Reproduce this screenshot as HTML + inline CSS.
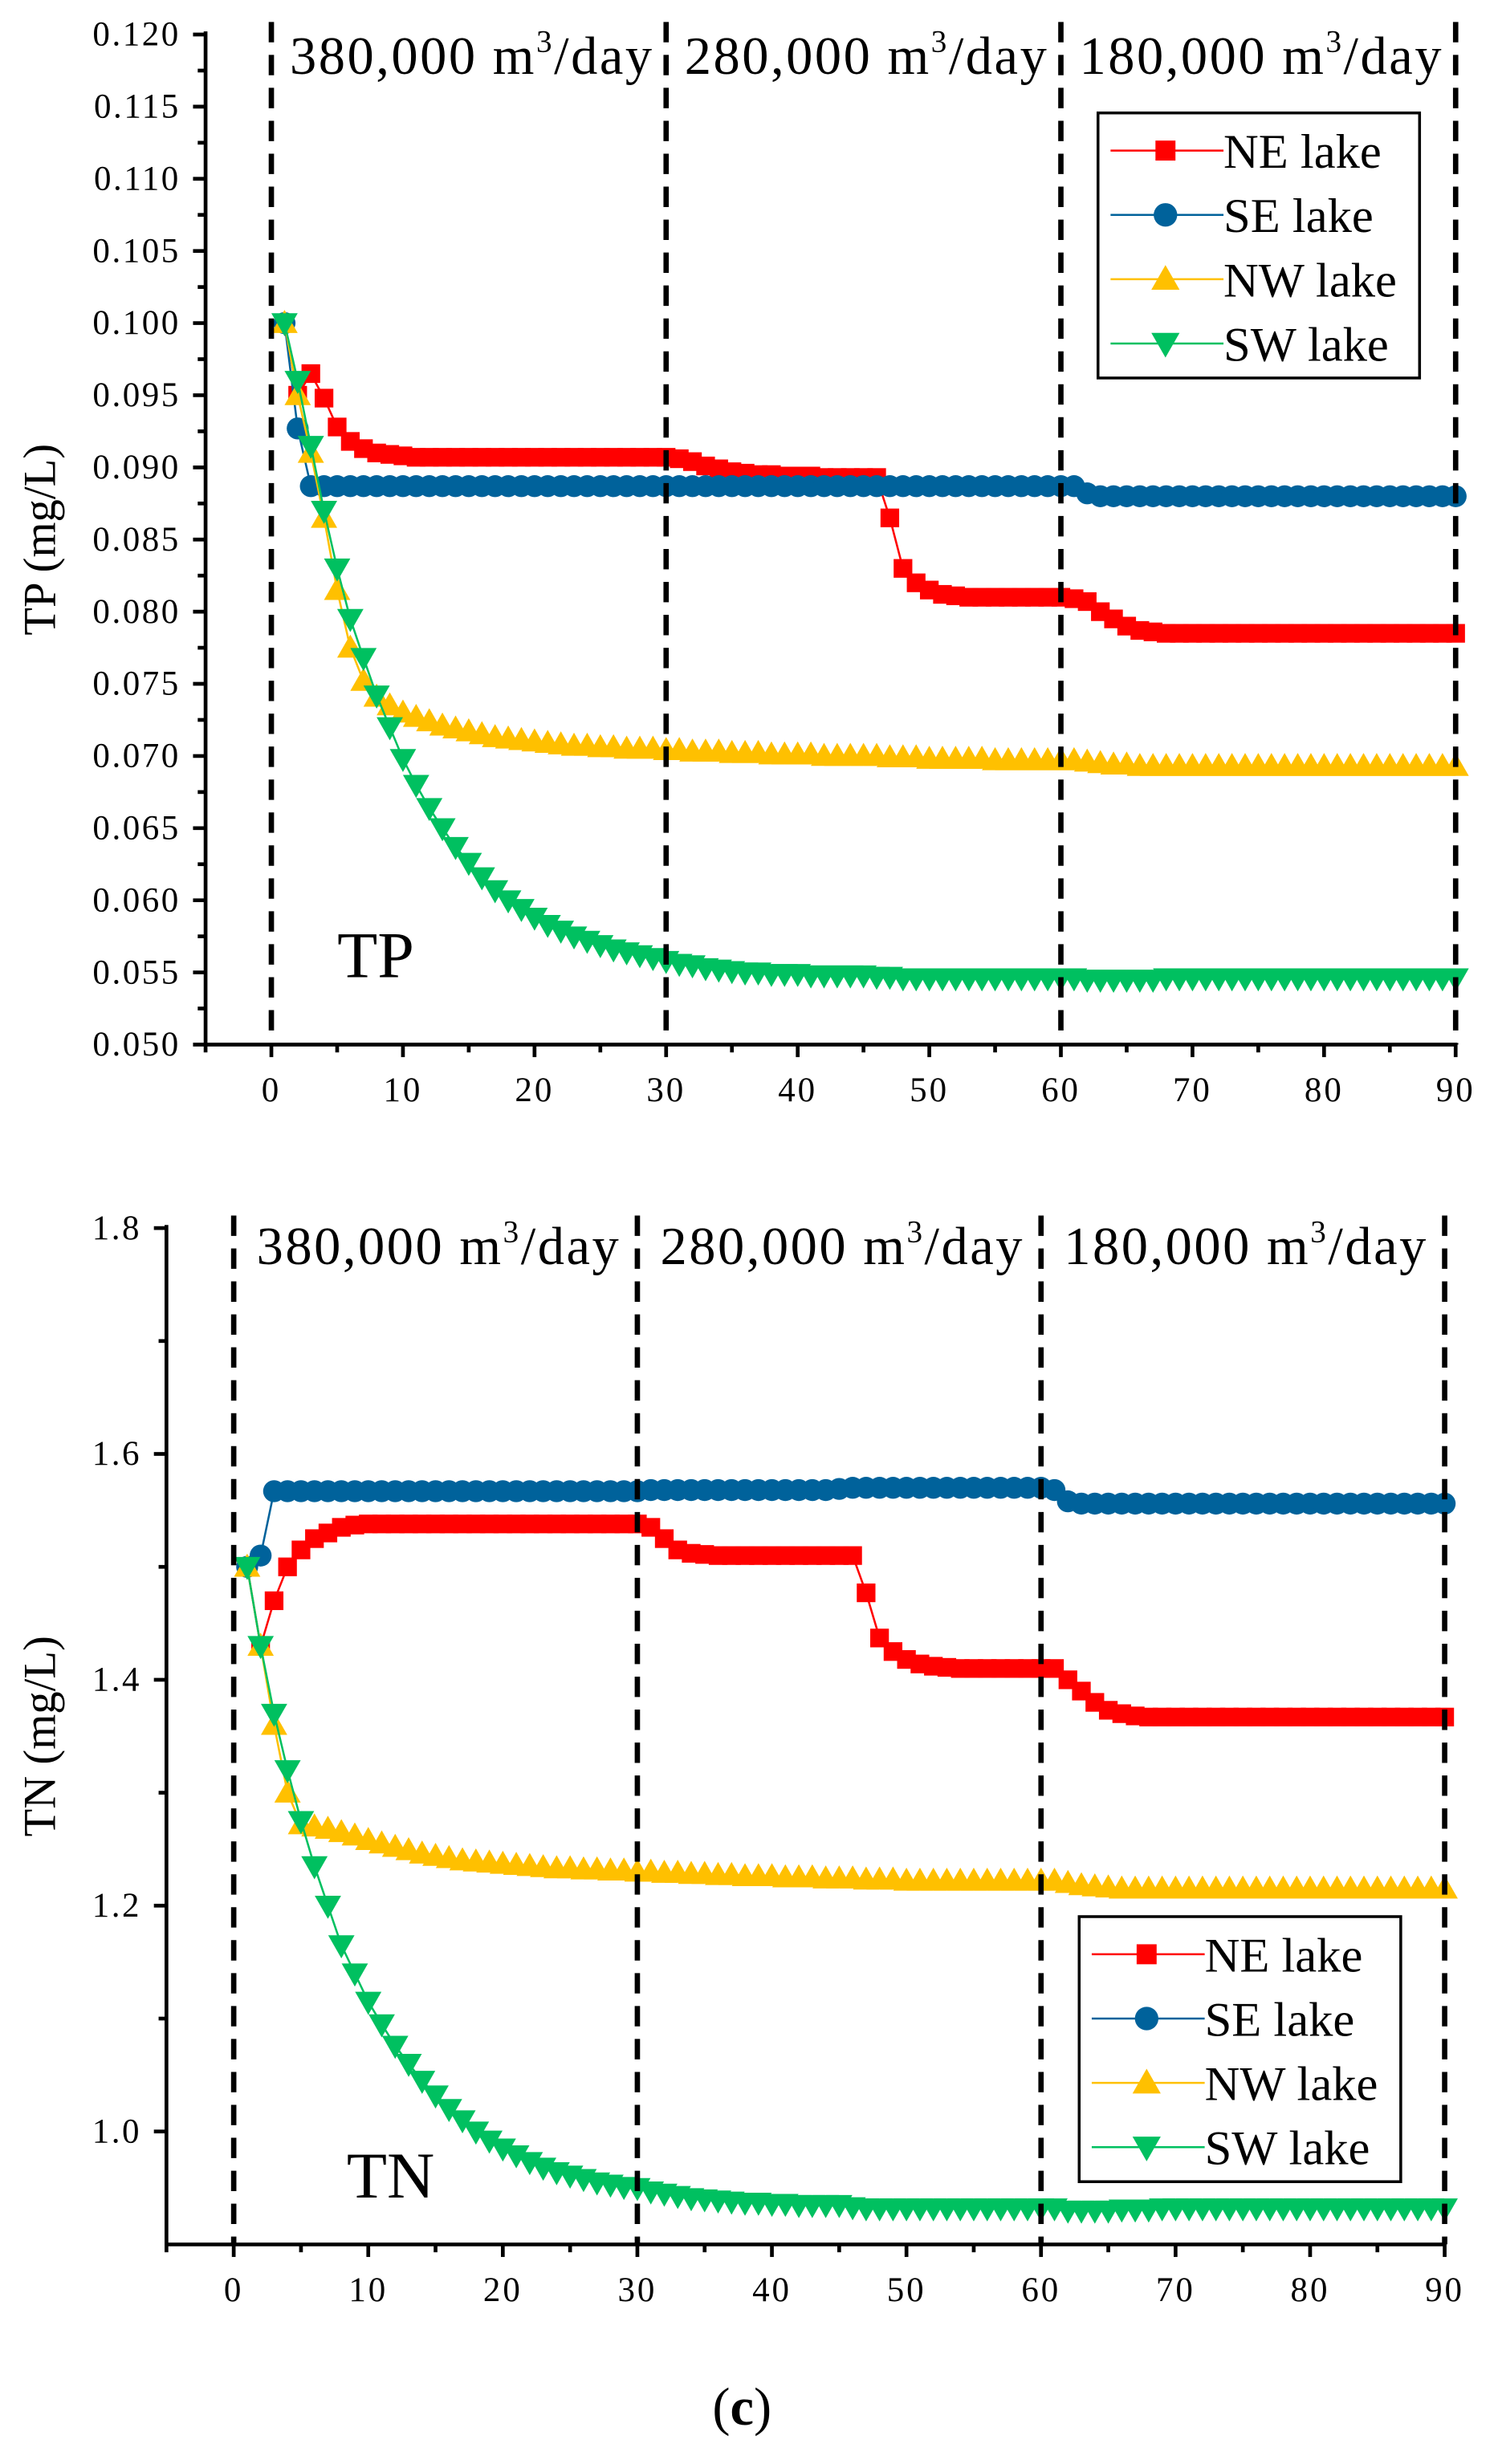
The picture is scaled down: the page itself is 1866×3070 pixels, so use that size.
<!DOCTYPE html>
<html><head><meta charset="utf-8">
<style>
html,body{margin:0;padding:0;background:#fff;}
svg{display:block;}
text{font-family:"Liberation Serif",serif;fill:#000;}
</style></head>
<body>
<svg id="fig" width="1866" height="3070" viewBox="0 0 955 1571" preserveAspectRatio="none" xmlns="http://www.w3.org/2000/svg">
<g id="top"></g>
<g id="bot"></g>
<text x="473" y="1546" font-size="34" text-anchor="middle">(<tspan font-weight="bold">c</tspan>)</text>
</svg>
<script>
const days = [1,2,3,4,5,6,7,8,9,10,11,12,13,14,15,16,17,18,19,20,21,22,23,24,25,26,27,28,29,30,31,32,33,34,35,36,37,38,39,40,41,42,43,44,45,46,47,48,49,50,51,52,53,54,55,56,57,58,59,60,61,62,63,64,65,66,67,68,69,70,71,72,73,74,75,76,77,78,79,80,81,82,83,84,85,86,87,88,89,90];
const seriesNames = ["NE lake","SE lake","NW lake","SW lake"];
const tpNE = [0.100,0.095,0.0965,0.0948,0.0928,0.0918,0.0913,0.0910,0.0909,0.0908,0.0907,0.0907,0.0907,0.0907,0.0907,0.0907,0.0907,0.0907,0.0907,0.0907,0.0907,0.0907,0.0907,0.0907,0.0907,0.0907,0.0907,0.0907,0.0907,0.0907,0.0906,0.0904,0.0901,0.0899,0.0897,0.0896,0.0895,0.0895,0.0894,0.0894,0.0894,0.0893,0.0893,0.0893,0.0893,0.0893,0.0865,0.0830,0.0820,0.0815,0.0812,0.0811,0.0810,0.0810,0.0810,0.0810,0.0810,0.0810,0.0810,0.0810,0.0809,0.0807,0.0800,0.0795,0.0790,0.0787,0.0786,0.0785,0.0785,0.0785,0.0785,0.0785,0.0785,0.0785,0.0785,0.0785,0.0785,0.0785,0.0785,0.0785,0.0785,0.0785,0.0785,0.0785,0.0785,0.0785,0.0785,0.0785,0.0785,0.0785];
const tpSE = [0.100,0.0927,0.0887,0.0887,0.0887,0.0887,0.0887,0.0887,0.0887,0.0887,0.0887,0.0887,0.0887,0.0887,0.0887,0.0887,0.0887,0.0887,0.0887,0.0887,0.0887,0.0887,0.0887,0.0887,0.0887,0.0887,0.0887,0.0887,0.0887,0.0887,0.0887,0.0887,0.0887,0.0887,0.0887,0.0887,0.0887,0.0887,0.0887,0.0887,0.0887,0.0887,0.0887,0.0887,0.0887,0.0887,0.0887,0.0887,0.0887,0.0887,0.0887,0.0887,0.0887,0.0887,0.0887,0.0887,0.0887,0.0887,0.0887,0.0887,0.0887,0.0882,0.0880,0.0880,0.0880,0.0880,0.0880,0.0880,0.0880,0.0880,0.0880,0.0880,0.0880,0.0880,0.0880,0.0880,0.0880,0.0880,0.0880,0.0880,0.0880,0.0880,0.0880,0.0880,0.0880,0.0880,0.0880,0.0880,0.0880,0.0880];
const tpNW = [0.100,0.095,0.091,0.0865,0.0815,0.0775,0.0752,0.0741,0.0735,0.0730,0.0727,0.0724,0.0721,0.0719,0.0717,0.0715,0.0713,0.0712,0.0711,0.0710,0.0709,0.0708,0.0707,0.0707,0.0706,0.0706,0.0705,0.0705,0.0705,0.0704,0.0704,0.0703,0.0703,0.0703,0.0702,0.0702,0.0702,0.0701,0.0701,0.0701,0.0701,0.0700,0.0700,0.0700,0.0700,0.0700,0.0699,0.0699,0.0699,0.0698,0.0698,0.0698,0.0698,0.0698,0.0697,0.0697,0.0697,0.0697,0.0697,0.0697,0.0697,0.0696,0.0695,0.0694,0.0694,0.0693,0.0693,0.0693,0.0693,0.0693,0.0693,0.0693,0.0693,0.0693,0.0693,0.0693,0.0693,0.0693,0.0693,0.0693,0.0693,0.0693,0.0693,0.0693,0.0693,0.0693,0.0693,0.0693,0.0693,0.0693];
const tpSW = [0.100,0.096,0.0915,0.0870,0.0830,0.0795,0.0768,0.0742,0.0720,0.0698,0.0680,0.0664,0.0650,0.0637,0.0626,0.0616,0.0607,0.0600,0.0594,0.0588,0.0583,0.0579,0.0575,0.0572,0.0569,0.0566,0.0564,0.0562,0.0560,0.0558,0.0556,0.0555,0.0553,0.0552,0.0551,0.0550,0.0550,0.0549,0.0549,0.0549,0.0548,0.0548,0.0548,0.0548,0.0548,0.0547,0.0547,0.0546,0.0546,0.0546,0.0546,0.0546,0.0546,0.0546,0.0546,0.0546,0.0546,0.0546,0.0546,0.0546,0.0546,0.0545,0.0545,0.0545,0.0545,0.0545,0.0545,0.0546,0.0546,0.0546,0.0546,0.0546,0.0546,0.0546,0.0546,0.0546,0.0546,0.0546,0.0546,0.0546,0.0546,0.0546,0.0546,0.0546,0.0546,0.0546,0.0546,0.0546,0.0546,0.0546];
const tnNE = [1.50,1.43,1.47,1.50,1.515,1.525,1.530,1.535,1.537,1.538,1.538,1.538,1.538,1.538,1.538,1.538,1.538,1.538,1.538,1.538,1.538,1.538,1.538,1.538,1.538,1.538,1.538,1.538,1.538,1.538,1.535,1.525,1.515,1.512,1.511,1.510,1.510,1.510,1.510,1.510,1.510,1.510,1.510,1.510,1.510,1.510,1.477,1.437,1.425,1.418,1.414,1.412,1.411,1.410,1.410,1.410,1.410,1.410,1.410,1.410,1.410,1.400,1.390,1.380,1.373,1.370,1.368,1.367,1.367,1.367,1.367,1.367,1.367,1.367,1.367,1.367,1.367,1.367,1.367,1.367,1.367,1.367,1.367,1.367,1.367,1.367,1.367,1.367,1.367,1.367];
const tnSE = [1.50,1.51,1.567,1.567,1.567,1.567,1.567,1.567,1.567,1.567,1.567,1.567,1.567,1.567,1.567,1.567,1.567,1.567,1.567,1.567,1.567,1.567,1.567,1.567,1.567,1.567,1.567,1.567,1.567,1.567,1.568,1.568,1.568,1.568,1.568,1.568,1.568,1.568,1.568,1.568,1.568,1.568,1.568,1.568,1.569,1.570,1.570,1.570,1.570,1.570,1.570,1.570,1.570,1.570,1.570,1.570,1.570,1.570,1.570,1.570,1.568,1.558,1.556,1.556,1.556,1.556,1.556,1.556,1.556,1.556,1.556,1.556,1.556,1.556,1.556,1.556,1.556,1.556,1.556,1.556,1.556,1.556,1.556,1.556,1.556,1.556,1.556,1.556,1.556,1.556];
const tnNW = [1.50,1.43,1.36,1.30,1.272,1.270,1.268,1.265,1.262,1.258,1.255,1.252,1.249,1.246,1.244,1.242,1.240,1.239,1.238,1.237,1.236,1.235,1.234,1.233,1.233,1.232,1.232,1.231,1.231,1.230,1.230,1.229,1.229,1.228,1.228,1.227,1.227,1.226,1.226,1.226,1.225,1.225,1.225,1.224,1.224,1.224,1.223,1.223,1.223,1.222,1.222,1.222,1.222,1.222,1.222,1.222,1.222,1.222,1.222,1.222,1.222,1.220,1.218,1.217,1.216,1.215,1.215,1.215,1.215,1.215,1.215,1.215,1.215,1.215,1.215,1.215,1.215,1.215,1.215,1.215,1.215,1.215,1.215,1.215,1.215,1.215,1.215,1.215,1.215,1.215];
const tnSW = [1.50,1.43,1.37,1.32,1.275,1.235,1.20,1.165,1.14,1.115,1.095,1.076,1.060,1.045,1.032,1.020,1.010,1.000,0.992,0.985,0.979,0.973,0.968,0.964,0.961,0.958,0.955,0.953,0.951,0.950,0.947,0.945,0.943,0.941,0.940,0.939,0.938,0.937,0.937,0.936,0.936,0.935,0.935,0.935,0.935,0.933,0.932,0.932,0.932,0.932,0.932,0.932,0.932,0.932,0.932,0.932,0.932,0.932,0.932,0.932,0.932,0.930,0.930,0.930,0.930,0.931,0.931,0.931,0.932,0.932,0.932,0.932,0.932,0.932,0.932,0.932,0.932,0.932,0.932,0.932,0.932,0.932,0.932,0.932,0.932,0.932,0.932,0.932,0.932,0.932];
const xTicks = [0,10,20,30,40,50,60,70,80,90];
const tpYTicks = ["0.050","0.055","0.060","0.065","0.070","0.075","0.080","0.085","0.090","0.095","0.100","0.105","0.110","0.115","0.120"];
const tnYTicks = ["1.0","1.2","1.4","1.6","1.8"];
const phases = [0,30,60,90];
const phaseLabels = ["380,000 m","280,000 m","180,000 m"];

const NS="http://www.w3.org/2000/svg";
const colors=["#ff0000","#00629b","#ffc000","#00c060"];
const shapes=["square","circle","up","down"];
function mk(parent,tag,attrs){const e=document.createElementNS(NS,tag);for(const k in attrs)e.setAttribute(k,attrs[k]);parent.appendChild(e);return e;}
function marker(g,shape,x,y,c,s){
  let e;
  if(shape==="square") e=mk(g,"rect",{x:x-s*0.85,y:y-s*0.85,width:s*1.7,height:s*1.7,fill:c});
  else if(shape==="circle") e=mk(g,"circle",{cx:x,cy:y,r:s,fill:c});
  else if(shape==="up") e=mk(g,"polygon",{points:`${x-s*1.2},${y+s*0.9} ${x+s*1.2},${y+s*0.9} ${x},${y-s*1.2}`,fill:c});
  else e=mk(g,"polygon",{points:`${x-s*1.2},${y-s*0.9} ${x+s*1.2},${y-s*0.9} ${x},${y+s*1.2}`,fill:c});
  return e;
}
function chart(g,o){
  const xs=v=>o.x0+(v-0)*(o.x90-o.x0)/90;
  const ys=v=>o.yb-(v-o.ymin)*(o.yb-o.yt)/(o.ymax-o.ymin);
  const axL=xs(-5);
  o.series.forEach((arr,si)=>{
    const sg=mk(g,"g",{});
    
    
    const pts=arr.map((v,i)=>xs(days[i])+","+ys(v)).join(" ");
    mk(sg,"polyline",{points:pts,fill:"none",stroke:colors[si],"stroke-width":1.3});
    arr.forEach((v,i)=>{
      const m=marker(sg,shapes[si],xs(days[i]),ys(v),colors[si],7);
      
      
    });
  });
  phases.forEach(p=>{
    const l=mk(g,"line",{x1:xs(p),x2:xs(p),y1:o.yt-8,y2:o.yb,stroke:"#000","stroke-width":3.4,"stroke-dasharray":"13,8"});
    
    
  });
  phaseLabels.forEach((t,i)=>{
    const tx=mk(g,"text",{x:(xs(phases[i])+xs(phases[i+1]))/2+2,y:o.yt+o.labelDy,"font-size":34,"text-anchor":"middle","letter-spacing":"1.3"});
    tx.innerHTML=t+'<tspan font-size="20" dy="-14">3</tspan><tspan dy="14">/day</tspan>';
    
    
  });
  const ax=mk(g,"g",{stroke:"#000","stroke-width":2.4,fill:"none"});
  
  
  mk(ax,"line",{x1:axL,x2:axL,y1:o.yt-2,y2:o.yb+1});
  mk(ax,"line",{x1:axL-1,x2:xs(90)+1,y1:o.yb,y2:o.yb});
  for(let v=-5;v<=90;v+=5){mk(ax,"line",{x1:xs(v),x2:xs(v),y1:o.yb,y2:o.yb+(v%10===0?8:5)});}
  xTicks.forEach(v=>{
    const t=mk(g,"text",{x:xs(v),y:o.yb+36,"font-size":22,"text-anchor":"middle","letter-spacing":"1.5"});
    t.textContent=v;
    
    
  });
  o.yticks.forEach(s=>{
    const v=parseFloat(s);
    mk(ax,"line",{x1:axL-8,x2:axL,y1:ys(v),y2:ys(v)});
    const t=mk(g,"text",{x:axL-16,y:ys(v)+7,"font-size":22,"text-anchor":"end","letter-spacing":"1.3"});
    t.textContent=s;
    
    
  });
  o.minor.forEach(v=>{mk(ax,"line",{x1:axL-5,x2:axL,y1:ys(v),y2:ys(v)});});
  const yt=mk(g,"text",{x:0,y:0,"font-size":29,"text-anchor":"middle",transform:`translate(${o.titleX},${(o.yt+o.yb)/2}) rotate(-90)`});
  yt.textContent=o.title;
  
  
  const pl=mk(g,"text",{x:o.tagX,y:o.tagY,"font-size":42});
  pl.textContent=o.tag;
  
  
  const lg=mk(g,"g",{});
  
  
  mk(lg,"rect",{x:o.lx,y:o.ly,width:205,height:169,fill:"#fff",stroke:"#000","stroke-width":1.8});
  seriesNames.forEach((n,i)=>{
    const yy=o.ly+24+i*41;
    const e=mk(lg,"g",{});
    
    
    mk(e,"line",{x1:o.lx+8,x2:o.lx+80,y1:yy,y2:yy,stroke:colors[i],"stroke-width":1.3});
    marker(e,shapes[i],o.lx+43,yy,colors[i],7.5);
    const t=mk(e,"text",{x:o.lx+80,y:yy+11,"font-size":31});
    t.textContent=n;
  });
}
chart(document.getElementById("top"),{x0:173,x90:928,yt:22,yb:666,ymin:0.05,ymax:0.12,
  series:[tpNE,tpSE,tpNW,tpSW],yticks:tpYTicks,
  minor:[0.0525,0.0575,0.0625,0.0675,0.0725,0.0775,0.0825,0.0875,0.0925,0.0975,0.1025,0.1075,0.1125,0.1175],
  title:"TP (mg/L)",titleX:35,tag:"TP",tagX:215,tagY:623,lx:700,ly:72,labelDy:25});
chart(document.getElementById("bot"),{x0:149,x90:921,yt:783,yb:1431,ymin:0.9,ymax:1.8,
  series:[tnNE,tnSE,tnNW,tnSW],yticks:tnYTicks,
  minor:[1.1,1.3,1.5,1.7],
  title:"TN (mg/L)",titleX:35,tag:"TN",tagX:221,tagY:1401,lx:688,ly:1222,labelDy:23});
</script>
</body></html>
